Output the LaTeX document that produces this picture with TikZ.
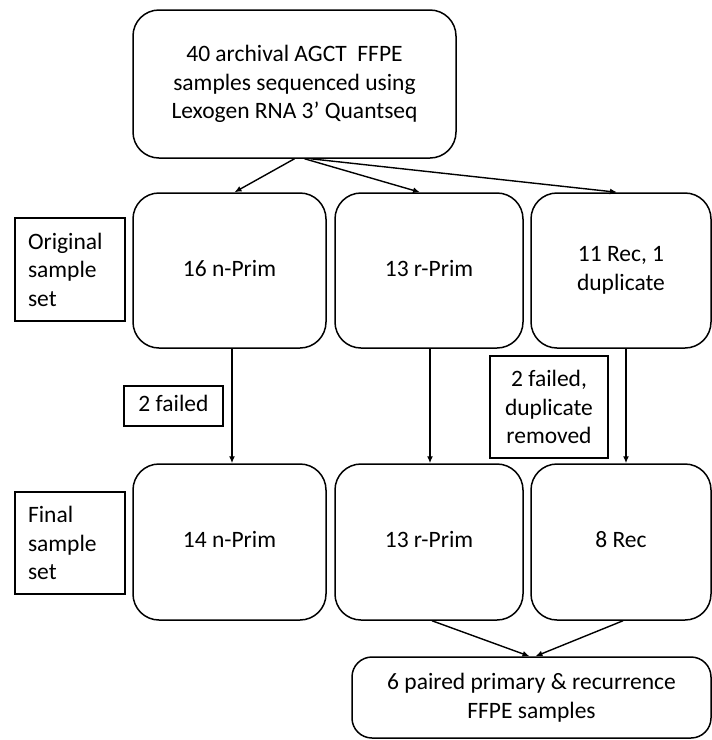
\documentclass[tikz,border=0pt]{standalone}
\usepackage{fontspec}
\setmainfont{Carlito}
\usetikzlibrary{arrows.meta}
\begin{document}
\begin{tikzpicture}[x=1pt,y=-1pt,
  every node/.style={font=\fontsize{23.5}{28.5}\selectfont, inner sep=0pt},
  rbox/.style={draw, line width=1.5pt, rounded corners=26pt, align=center},
  lbox/.style={draw, line width=1.4pt, align=center},
  arr/.style={line width=1.4pt, -{Latex[length=7pt,width=6pt]}}]
\useasboundingbox (0,0) rectangle (712,740);
\node[rbox, minimum width=323pt, minimum height=148pt] (top) at (294.5,84) {40 archival AGCT\ \ FFPE\\samples sequenced using\\Lexogen RNA 3’ Quantseq};
\node[rbox, minimum width=193pt, minimum height=155pt] (p1) at (229.5,270.5) {\strut 16 n-Prim};
\node[rbox, minimum width=188pt, minimum height=155pt] (p2) at (429,270.5) {\strut 13 r-Prim};
\node[rbox, minimum width=180pt, minimum height=155pt] (p3) at (621,270.5) {11 Rec, 1\\duplicate};
\node[rbox, minimum width=193pt, minimum height=156pt] (f1) at (229.5,542) {\strut 14 n-Prim};
\node[rbox, minimum width=188pt, minimum height=156pt] (f2) at (429,542) {\strut 13 r-Prim};
\node[rbox, minimum width=180pt, minimum height=156pt] (f3) at (621,542) {\strut 8 Rec};
\node[rbox, rounded corners=20pt, minimum width=359pt, minimum height=81pt] (b) at (531.5,697.5) {6 paired primary \& recurrence\\FFPE samples};
\node[lbox, minimum width=110pt, minimum height=103pt, text width=84pt, align=left] (orig) at (70,269.5) {Original\\sample\\set};
\node[lbox, minimum width=110pt, minimum height=102pt, text width=84pt, align=left] (fin) at (70,543) {Final\\sample\\set};
\node[lbox, minimum width=99pt, minimum height=40pt] (fa1) at (173.5,406) {\strut 2 failed};
\node[lbox, minimum width=118pt, minimum height=102pt] (fa2) at (549,407) {2 failed,\\duplicate\\removed};
\draw[arr] (top.south) -- ([xshift=5pt]p1.north);
\draw[arr] ([xshift=10pt]top.south) -- ([xshift=-9pt]p2.north);
\draw[arr] ([xshift=16pt]top.south) -- ([xshift=-4pt]p3.north);
\draw[arr] ([xshift=2.5pt]p1.south) -- ([xshift=2.5pt]f1.north);
\draw[arr] ([xshift=1pt]p2.south) -- ([xshift=1pt]f2.north);
\draw[arr] ([xshift=5pt]p3.south) -- ([xshift=5pt]f3.north);
\draw[arr] ([xshift=3pt]f2.south) -- ([xshift=-2pt]b.north);
\draw[arr] ([xshift=2pt]f3.south) -- ([xshift=4pt]b.north);
\end{tikzpicture}
\end{document}
